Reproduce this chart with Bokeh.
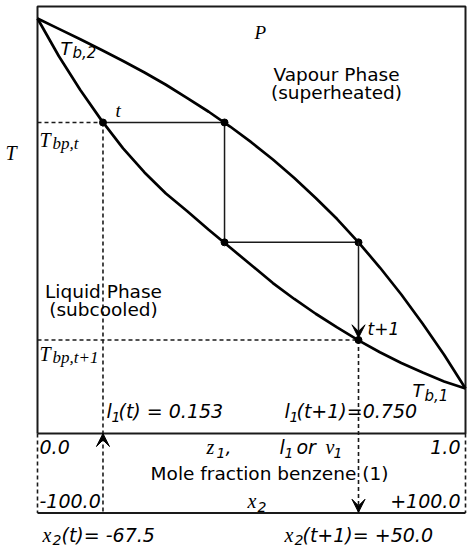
from bokeh.plotting import figure
from bokeh.models import Range1d, Arrow, VeeHead
from bokeh.core.properties import value
from bokeh.embed import file_html
from bokeh.resources import INLINE

# ---- data -----------------------------------------------------------------
# mole fraction of benzene (1)
x1 = [0.00, 0.05, 0.10, 0.15, 0.20, 0.25, 0.30, 0.35, 0.40, 0.45, 0.50,
      0.55, 0.60, 0.65, 0.70, 0.75, 0.80, 0.85, 0.90, 0.95, 1.00]
# temperature (arbitrary units, T_b,1 = 0 ... T_b,2 = 100)
T_dew = [100.0, 97.2, 94.4, 91.5, 88.5, 85.4, 82.1, 78.5, 74.8, 70.8, 66.5,
         61.9, 56.9, 51.5, 45.8, 39.5, 32.7, 25.4, 17.5, 9.1, 0.0]
T_bubble = [100.0, 89.8, 80.7, 72.4, 64.9, 58.4, 52.7, 47.9, 42.9, 38.1, 33.3,
            28.5, 24.2, 20.2, 16.5, 13.0, 9.8, 6.9, 4.3, 1.9, 0.0]
# McCabe-type stage construction
l1_stage = [0.153, 0.437, 0.750]
v1_stage = [0.437, 0.750]
T_stage = [71.9, 39.5, 13.1]
# label texts
l1_labels = ["(t) = 0.153", "(t+1)=0.750"]
x2_labels = ["(t)= -67.5", "(t+1)= +50.0"]
z_ticks = ["0.0", "1.0"]
x2_ticks = ["-100.0", "+100.0"]

# ---- page mapping helpers (annotation placement only) ---------------------
def X(px):
    return (px - 38.0) / 428.0

def Y(py):
    return (388.0 - py) / 3.7

T_top, T_axis, T_axis2 = Y(6), Y(433), Y(512.5)

p = figure(width=467, height=547, x_range=Range1d(X(2), X(469)),
           y_range=Range1d(Y(549), Y(2)), output_backend="svg",
           toolbar_location=None, x_axis_type=None, y_axis_type=None,
           min_border=0, min_border_left=0, min_border_right=0,
           min_border_top=0, min_border_bottom=0)
p.grid.visible = False
p.outline_line_color = None
p.background_fill_color = "white"
p.border_fill_color = "white"
p.styles = {"margin-left": "1px", "margin-top": "2px"}

INK = "#1a1a1a"
SANS = value("DejaVu Sans")
SERIF = value("Liberation Serif")

# frame
p.line([0, 1, 1, 0, 0], [T_axis, T_axis, T_top, T_top, T_axis], line_color=INK, line_width=2)
p.line([0, 1], [T_axis2, T_axis2], line_color=INK, line_width=2)
p.line([0, 0], [T_axis, T_axis2], line_color=INK, line_width=1.6, line_dash="4 3")
p.line([1, 1], [T_axis, T_axis2], line_color=INK, line_width=1.6, line_dash="4 3")

# curves
p.line(x1, T_dew, line_color="black", line_width=2.7)
p.line(x1, T_bubble, line_color="black", line_width=2.7)

# staircase
p.line([l1_stage[0], v1_stage[0]], [T_stage[0], T_stage[0]], line_color=INK, line_width=1.5)
p.line([v1_stage[0], l1_stage[1]], [T_stage[0], T_stage[1]], line_color=INK, line_width=1.5)
p.line([l1_stage[1], v1_stage[1]], [T_stage[1], T_stage[1]], line_color=INK, line_width=1.5)
p.add_layout(Arrow(x_start=v1_stage[1], y_start=T_stage[1], x_end=l1_stage[2],
                   y_end=T_stage[2] + 0.6, line_color=INK, line_width=1.5,
                   end=VeeHead(size=13, fill_color="black", line_color="black", line_width=1)))

# dashed guides
p.line([0, l1_stage[0]], [T_stage[0], T_stage[0]], line_color=INK, line_width=1.6, line_dash="4 3")
p.line([0, l1_stage[2]], [T_stage[2], T_stage[2]], line_color=INK, line_width=1.6, line_dash="4 3")
p.line([l1_stage[0], l1_stage[0]], [T_stage[0], T_axis2], line_color=INK, line_width=1.6, line_dash="4 3")
p.line([l1_stage[2], l1_stage[2]], [T_stage[2], T_axis2], line_color=INK, line_width=1.6, line_dash="4 3")
p.add_layout(Arrow(x_start=l1_stage[0], y_start=T_axis - 4, x_end=l1_stage[0], y_end=T_axis,
                   line_alpha=0,
                   end=VeeHead(size=13, fill_color="black", line_color="black", line_width=1)))
p.add_layout(Arrow(x_start=l1_stage[2], y_start=T_axis2 + 4, x_end=l1_stage[2], y_end=T_axis2 + 0.2,
                   line_alpha=0,
                   end=VeeHead(size=13, fill_color="black", line_color="black", line_width=1)))

# stage points
p.scatter(l1_stage + v1_stage, T_stage + T_stage[:2], size=7, color="black")


def txt(px, py, s, font, size, style="italic", align="left"):
    # py is the wanted baseline on the page; compensate the renderer's baseline offset
    p.text(x=[X(px)], y=[Y(py - 0.37 * size)], text=[s], text_font=font,
           text_font_size=f"{size}px", text_font_style=style, text_align=align,
           text_baseline="alphabetic", text_color="black")


# region labels
txt(6, 160, "T", SERIF, 20)
txt(255, 39, "P", SERIF, 19)
txt(337, 81, "Vapour Phase", SANS, 18.5, "normal", "center")
txt(337, 99, "(superheated)", SANS, 18.5, "normal", "center")
txt(104, 298, "Liquid Phase", SANS, 18.5, "normal", "center")
txt(104, 316, "(subcooled)", SANS, 18.5, "normal", "center")

# pure component boiling points
txt(61, 55, "T", SANS, 18)
txt(73, 58, "b,2", SANS, 15)
txt(413, 397, "T", SANS, 18)
txt(425, 401, "b,1", SANS, 15)

# stage labels
txt(116, 117, "t", SERIF, 19)
txt(368, 335, "t+1", SANS, 17)
txt(40, 147, "T", SERIF, 20)
txt(53, 149, "bp,t", SERIF, 17)
txt(40, 361, "T", SERIF, 20)
txt(53, 363, "bp,t+1", SERIF, 17)

# l1 values
txt(107, 418, "l", SANS, 19)
txt(112, 422, "1", SANS, 14)
txt(119, 418, l1_labels[0], SANS, 19)
txt(285, 418, "l", SANS, 19)
txt(290, 422, "1", SANS, 14)
txt(297, 418, l1_labels[1], SANS, 19)

# composition axis
txt(40, 454, z_ticks[0], SANS, 19)
txt(461, 454, z_ticks[1], SANS, 19, "italic", "right")
txt(207, 454, "z", SERIF, 20)
txt(217, 458, "1", SANS, 14)
txt(226, 454, ",", SANS, 19)
txt(280, 454, "l", SANS, 19)
txt(285, 458, "1", SANS, 14)
txt(297, 454, "or", SANS, 19)
txt(326, 454, "v", SERIF, 20)
txt(334, 458, "1", SANS, 14)
txt(270, 480, "Mole fraction benzene (1)", SANS, 18.5, "normal", "center")
txt(40, 508, x2_ticks[0], SANS, 19)
txt(461, 508, x2_ticks[1], SANS, 19, "italic", "right")
txt(248, 508, "x", SERIF, 20)
txt(258, 512, "2", SANS, 14)

# x2 values
txt(43, 542, "x", SERIF, 20)
txt(53, 545, "2", SANS, 14)
txt(62, 542, x2_labels[0], SANS, 19)
txt(285, 542, "x", SERIF, 20)
txt(295, 545, "2", SANS, 14)
txt(303, 542, x2_labels[1], SANS, 19)

open("out.html", "w").write(file_html(p, INLINE))
